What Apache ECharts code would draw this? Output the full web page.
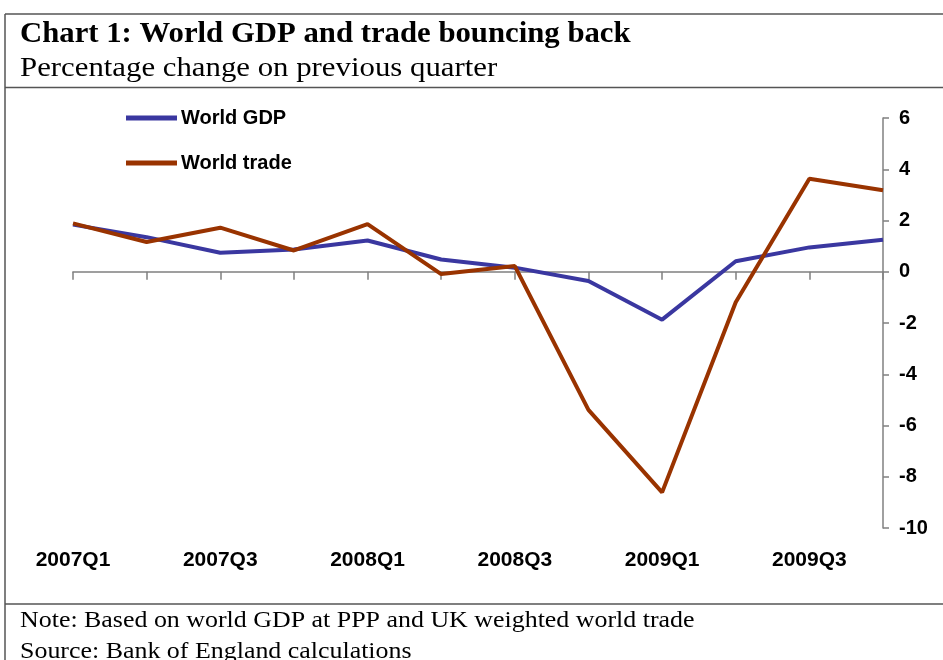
<!DOCTYPE html>
<html>
<head>
<meta charset="utf-8">
<script src="https://cdn.jsdelivr.net/npm/echarts@6/dist/echarts.min.js"></script>
<style>html,body{margin:0;padding:0;background:#fff}#c{width:943px;height:660px}</style>
</head>
<body>
<div id="c"></div>
<script>
const quarters = ['2007Q1','2007Q2','2007Q3','2007Q4','2008Q1','2008Q2','2008Q3','2008Q4','2009Q1','2009Q2','2009Q3','2009Q4'];
const worldGDP = [1.84, 1.35, 0.74, 0.87, 1.22, 0.48, 0.16, -0.36, -1.87, 0.41, 0.95, 1.25];
const worldTrade = [1.89, 1.16, 1.72, 0.83, 1.86, -0.09, 0.22, -5.39, -8.61, -1.19, 3.63, 3.18];
const titleText = 'Chart 1: World GDP and trade bouncing back';
const subtitleText = 'Percentage change on previous quarter';
const noteText = 'Note: Based on world GDP at PPP and UK weighted world trade';
const sourceText = 'Source: Bank of England calculations';

const SANS = '"Liberation Sans", Arial, sans-serif';
const SERIF = '"Liberation Serif", "Times New Roman", serif';
const chart = echarts.init(document.getElementById('c'));
const frame = '#555';
chart.setOption({
  animation: false,
  backgroundColor: '#fff',
  grid: { left: 73, right: 60, top: 118, bottom: 132, containLabel: false },
  legend: {
    orient: 'vertical', left: 126, top: 108, padding: 0,
    itemWidth: 51, itemHeight: 5, itemGap: 25, icon: 'rect',
    textStyle: { fontFamily: SANS, fontWeight: 'bold', fontSize: 20, color: '#000', padding: [0,0,0,-1] },
    data: ['World GDP', 'World trade']
  },
  xAxis: [
    {
      type: 'category', data: quarters, boundaryGap: false, position: 'bottom',
      axisLine: { show: false, onZero: false }, axisTick: { show: false },
      axisLabel: { interval: 1, margin: 22, fontFamily: SANS, fontWeight: 'bold', fontSize: 21, color: '#000' },
      splitLine: { show: false }
    },
    {
      type: 'category', data: quarters, boundaryGap: false, position: 'top',
      axisLine: { show: true, onZero: true, lineStyle: { color: '#808080', width: 1.5 } },
      axisTick: { show: true, inside: true, length: 8, interval: 0, lineStyle: { color: '#808080', width: 1.5 } },
      axisLabel: { show: false }, splitLine: { show: false }
    }
  ],
  yAxis: {
    type: 'value', position: 'right', min: -10, max: 6, interval: 2,
    axisLine: { show: true, lineStyle: { color: '#808080', width: 1.5 } },
    axisTick: { show: true, length: 6, lineStyle: { color: '#808080', width: 1.5 } },
    axisLabel: { margin: 16, fontFamily: SANS, fontWeight: 'bold', fontSize: 20, color: '#000' },
    splitLine: { show: false }
  },
  series: [
    { name: 'World GDP', type: 'line', xAxisIndex: 0, data: worldGDP, symbol: 'none',
      color: '#3A37A0', lineStyle: { width: 4, color: '#3A37A0' } },
    { name: 'World trade', type: 'line', xAxisIndex: 0, data: worldTrade, symbol: 'none',
      color: '#993300', lineStyle: { width: 4, color: '#993300' } }
  ],
  graphic: [
    { type: 'line', shape: { x1: 5, y1: 14, x2: 943, y2: 14 }, style: { stroke: frame, lineWidth: 1.5 } },
    { type: 'line', shape: { x1: 5, y1: 87.5, x2: 943, y2: 87.5 }, style: { stroke: frame, lineWidth: 1.5 } },
    { type: 'line', shape: { x1: 5, y1: 604, x2: 943, y2: 604 }, style: { stroke: frame, lineWidth: 1.5 } },
    { type: 'line', shape: { x1: 5, y1: 14, x2: 5, y2: 660 }, style: { stroke: frame, lineWidth: 1.5 } },
    { type: 'text', x: 20, y: 35, scaleX: 1.06, style: { text: titleText, font: 'bold 29px ' + SERIF, fill: '#000', verticalAlign: 'middle', align: 'left' } },
    { type: 'text', x: 20, y: 69, scaleX: 1.12, style: { text: subtitleText, font: '27.5px ' + SERIF, fill: '#000', verticalAlign: 'middle', align: 'left' } },
    { type: 'text', x: 20, y: 621, scaleX: 1.08, style: { text: noteText, font: '24px ' + SERIF, fill: '#000', verticalAlign: 'middle', align: 'left' } },
    { type: 'text', x: 20, y: 652, scaleX: 1.08, style: { text: sourceText, font: '24px ' + SERIF, fill: '#000', verticalAlign: 'middle', align: 'left' } }
  ]
});
</script>
</body>
</html>
